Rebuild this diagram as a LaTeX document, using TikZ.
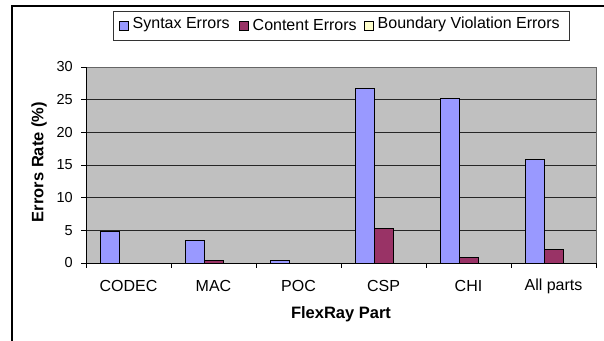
\documentclass[tikz,border=0pt]{standalone}
\usepackage{fontspec}
\setmainfont{Liberation Sans}
\definecolor{syn}{HTML}{9999FF}
\definecolor{con}{HTML}{993366}
\definecolor{bnd}{HTML}{FFFFCC}
\definecolor{plotbg}{HTML}{C0C0C0}
\begin{document}
\begin{tikzpicture}[x=1pt,y=-1pt,
  ticklab/.style={font=\fontsize{14.5}{16}\selectfont, inner sep=0pt},
  catlab/.style={font=\fontsize{16}{18}\selectfont, inner sep=0pt},
  axtitle/.style={font=\bfseries\fontsize{16.5}{18}\selectfont, inner sep=0pt},
  legtext/.style={font=\fontsize{16}{18}\selectfont, inner sep=0pt, anchor=west},
  legmark/.style={draw=black, line width=0.6pt, minimum size=9.5pt, inner sep=0pt},
  bar/.style={draw=black, line width=0.8pt}]
\useasboundingbox (0,0) rectangle (604,340);
\clip (0,0) rectangle (604,340);
\fill[white] (0,0) rectangle (604,340);
% outer frame
\draw[line width=1.2pt] (12,350) -- (12,6) -- (620,6);
% plot area
\fill[plotbg] (86,67) rectangle (596,263);
\draw[gray!80!black, line width=0.8pt] (86,67) rectangle (596,263);
\foreach \v in {5,10,15,20,25}{
  \draw[black!85, line width=0.9pt] (86,{263-6.5333*\v}) -- (596,{263-6.5333*\v});
}
% axes
\draw[black, line width=0.9pt] (86,67) -- (86,263) -- (596,263);
\foreach \v in {0,5,...,30}{
  \draw[black, line width=0.9pt] (81,{263-6.5333*\v}) -- (86,{263-6.5333*\v});
  \node[ticklab, anchor=east] (yt\v) at (73,{263-6.5333*\v}) {\v};
}
\foreach \i in {0,...,6}{
  \draw[black, line width=0.9pt] ({86+85*\i},263) -- ({86+85*\i},268);
}
% bars
\foreach \v [count=\i from 0] in {4.8,3.5,0.4,26.8,25.2,15.9}{
  \pgfmathsetmacro\xl{100.5+85*\i}
  \filldraw[bar, fill=syn] (\xl,263) rectangle ({\xl+19},{263-6.5333*\v});
}
\foreach \v [count=\i from 0] in {0,0.4,0,5.3,0.8,2.1}{
  \pgfmathsetmacro\xl{119.5+85*\i}
  \ifdim\v pt>0pt
    \filldraw[bar, fill=con] (\xl,263) rectangle ({\xl+19},{263-6.5333*\v});
  \fi
}
% category labels
\foreach \n [count=\i from 0] in {CODEC,MAC,POC,CSP,CHI,All parts}{
  \node[catlab] (cat\i) at ({128.5+85*\i},286) {\n};
}
% axis titles
\node[axtitle] (xtitle) at (341,314) {FlexRay Part};
\node[axtitle, rotate=90] (ytitle) at (39,162) {Errors Rate (\%)};
% legend
\node[draw=black!80, line width=0.8pt, minimum width=456pt, minimum height=29pt, inner sep=0pt] (legend) at (341,25.5) {};
\node[legmark, fill=syn] (m1) at (124,26) {};
\node[legtext] (t1) at (132.5,24.5) {Syntax Errors};
\node[legmark, fill=con] (m2) at (244,26) {};
\node[legtext] (t2) at (252.5,24.5) {Content Errors};
\node[legmark, fill=bnd] (m3) at (369,26) {};
\node[legtext] (t3) at (377.5,24.5) {Boundary Violation Errors};
\end{tikzpicture}
\end{document}
